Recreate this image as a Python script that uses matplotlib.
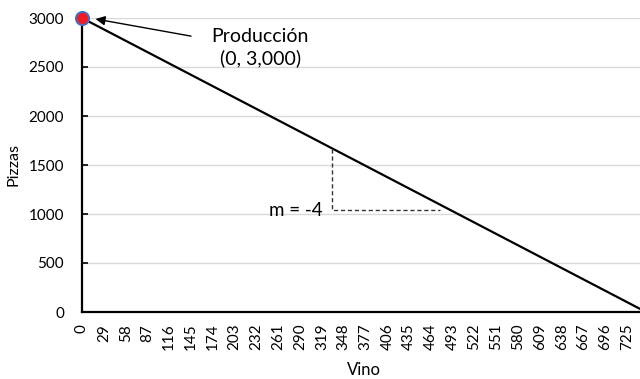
import numpy as np
import matplotlib
matplotlib.use("Agg")
from matplotlib import pyplot as plt

plt.rcParams['font.family'] = ['Lato', 'DejaVu Sans']

# frontera de posibilidades: pizzas = 3000 - 4 * vino
vino = [0, 750]
pizzas = [3000, 0]
x_ticks = list(range(0, 726, 29))
y_ticks = [0, 500, 1000, 1500, 2000, 2500, 3000]

# triangulo de la pendiente
tri_x = [333, 333, 476]
tri_y = [1662, 1040, 1040]

fig = plt.figure(figsize=(6.4, 3.79), dpi=100)
ax = fig.add_axes([82/640, 67/379, 564/640, 294/379])

ax.plot(vino, pizzas, color='black', lw=1.6, zorder=3)
ax.plot(tri_x, tri_y, color='#333333', lw=1, ls=(0, (3, 2)), zorder=3)
ax.scatter([0], [3000], s=90, color='#ee1c25', edgecolor='#4472c4', lw=1.4, zorder=5, clip_on=False)

ax.set_xlim(0, 750)
ax.set_ylim(0, 3000)
ax.set_xticks(x_ticks)
ax.set_xticklabels([str(v) for v in x_ticks], rotation=90, fontsize=11)
ax.set_yticks(y_ticks)
ax.set_yticklabels([str(v) for v in y_ticks], fontsize=11)
ax.tick_params(axis='x', length=0, pad=8.5)
ax.tick_params(axis='y', direction='in', length=4, width=1.2, pad=13)
ax.grid(axis='y', color='#d9d9d9', lw=1)
ax.set_axisbelow(True)
for s in ['top', 'right']:
    ax.spines[s].set_visible(False)
for s in ['left', 'bottom']:
    ax.spines[s].set_linewidth(1.6)

ax.set_xlabel('Vino', fontsize=12, labelpad=8)
ax.set_ylabel('Pizzas', fontsize=11.5, labelpad=6)

# etiqueta y flecha del punto de produccion
ax.text(237, 2700, 'Producción\n(0, 3,000)', ha='center', va='center', fontsize=14, linespacing=1.3)
ax.annotate('', xy=(18, 2990), xytext=(145, 2815),
            arrowprops=dict(arrowstyle='-|>', color='black', lw=1, shrinkA=0, shrinkB=0,
                            mutation_scale=14))
ax.text(320, 1040, 'm = -4', ha='right', va='center', fontsize=13.5)

plt.savefig('out.png')
